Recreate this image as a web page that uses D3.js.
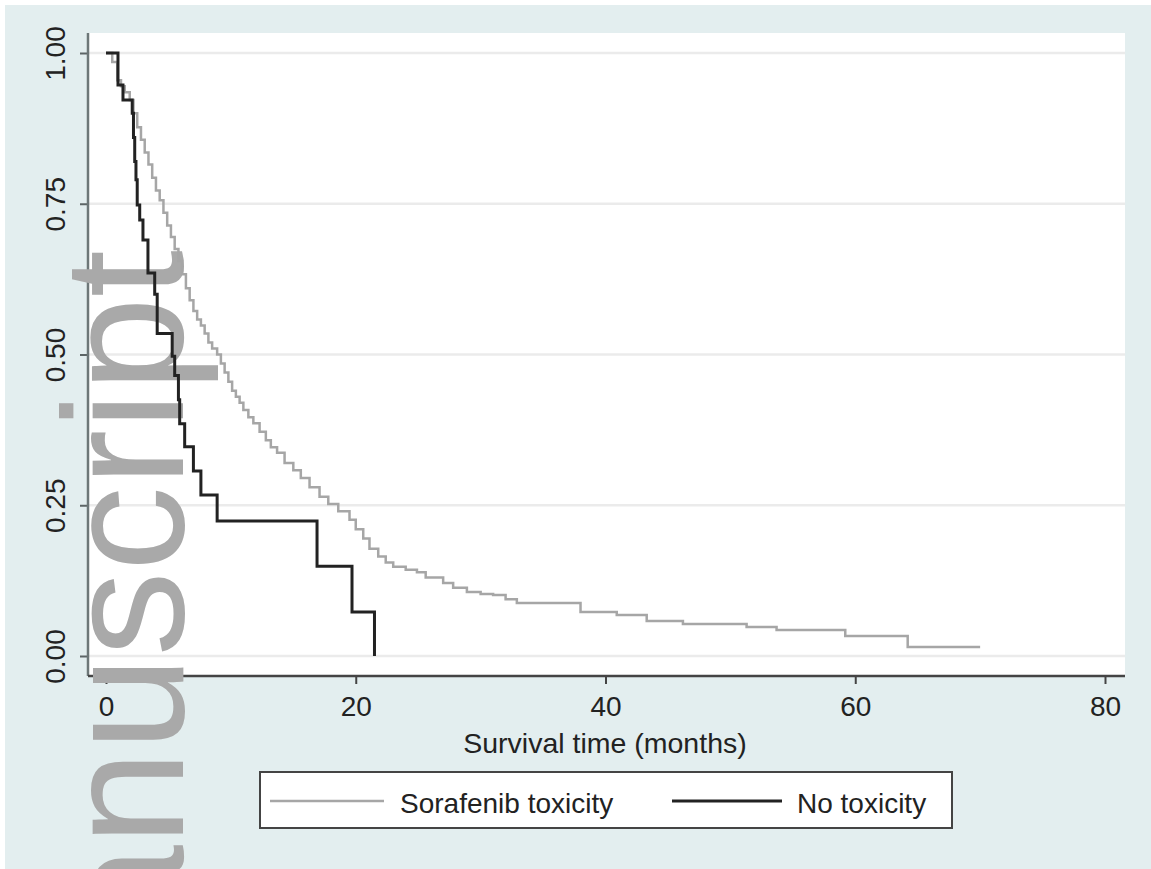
<!DOCTYPE html>
<html>
<head>
<meta charset="utf-8">
<script src="https://cdnjs.cloudflare.com/ajax/libs/d3/7.8.5/d3.min.js"></script>
<style>
    html, body { margin: 0; padding: 0; background: #ffffff; }
    svg { display: block; font-family: "Liberation Sans", Arial, sans-serif; }
</style>
</head>
<body>
<div id="chart"></div>
<script>
// Kaplan-Meier steps: time (months) and survival after that time.
var toxTime = [0, 0.5, 0.9, 1.2, 1.5, 1.9, 2.2, 2.5, 2.8, 3.1, 3.4, 3.7, 4.0, 4.3, 4.6, 4.9, 5.2, 5.5, 5.8, 6.1,
    6.4, 6.7, 7.0, 7.3, 7.6, 7.9, 8.2, 8.5, 8.9, 9.2, 9.5, 9.8, 10.1, 10.4, 10.7, 11.0, 11.4, 11.8, 12.3, 12.8,
    13.2, 13.7, 14.3, 15.0, 15.6, 16.3, 17.1, 17.8, 18.6, 19.5, 20.0, 20.6, 21.1, 21.8, 22.4, 23.0, 24.0, 24.9,
    25.6, 27.0, 27.8, 28.9, 30.0, 31.0, 32.0, 32.9, 38.0, 40.9, 43.3, 46.2, 51.3, 53.7, 59.2, 64.2, 70.0];
var toxSurv = [1.0, 0.985, 0.955, 0.945, 0.935, 0.922, 0.9, 0.877, 0.856, 0.835, 0.815, 0.793, 0.772, 0.756,
    0.735, 0.714, 0.695, 0.675, 0.655, 0.633, 0.61, 0.59, 0.572, 0.558, 0.548, 0.535, 0.52, 0.51, 0.5, 0.485,
    0.47, 0.455, 0.44, 0.43, 0.42, 0.408, 0.396, 0.386, 0.372, 0.358, 0.346, 0.337, 0.32, 0.308, 0.295, 0.28,
    0.264, 0.252, 0.24, 0.226, 0.21, 0.195, 0.178, 0.165, 0.155, 0.148, 0.143, 0.139, 0.13, 0.121, 0.113,
    0.106, 0.103, 0.101, 0.094, 0.088, 0.073, 0.068, 0.058, 0.053, 0.048, 0.043, 0.033, 0.015, 0.015];

var noToxTime = [0, 0.96, 1.36, 2.1, 2.2, 2.3, 2.4, 2.5, 2.7, 2.96, 3.36, 3.9, 4.1, 5.3, 5.5, 5.8, 5.9, 6.3, 7.0,
    7.6, 8.9, 16.9, 19.7, 21.5];
var noToxSurv = [1.0, 0.947, 0.922, 0.9, 0.86, 0.82, 0.79, 0.748, 0.723, 0.69, 0.635, 0.6, 0.535, 0.497, 0.465,
    0.425, 0.385, 0.347, 0.307, 0.267, 0.224, 0.149, 0.073, 0.0];

var xTicks = [0, 20, 40, 60, 80];
var yTicks = [0, 0.25, 0.5, 0.75, 1.0];
var xTitle = "Survival time (months)";
var seriesNames = ["Sorafenib toxicity", "No toxicity"];
var watermarkText = "anuscript";

var params = {
    width: 1151,
    height: 869,
    // plot region box
    regionLeft: 88,
    regionRight: 1125,
    regionTop: 33,
    regionBottom: 676,
    fontSize: 28
};

function buildSeries(times, survs) {
    return times.map(function (d, i) { return { t: d, s: survs[i] }; });
}

function render() {
    var p = params;
    var svg = d3.select("#chart").append("svg")
        .attr("width", p.width)
        .attr("height", p.height);

    // graph region (light blue) and plot region (white)
    svg.append("rect").attr("x", 5).attr("y", 5)
        .attr("width", p.width - 5).attr("height", p.height - 5)
        .attr("fill", "#e3eeef");
    svg.append("rect").attr("x", p.regionLeft).attr("y", p.regionTop)
        .attr("width", p.regionRight - p.regionLeft).attr("height", p.regionBottom - p.regionTop)
        .attr("fill", "#ffffff");

    var xScale = d3.scaleLinear().domain([0, 80]).range([106, 1105]);
    var yScale = d3.scaleLinear().domain([0, 1]).range([656, 53]);

    // grid lines
    svg.append("g").attr("class", "grid")
        .selectAll("line").data(yTicks).enter().append("line")
        .attr("x1", p.regionLeft).attr("x2", p.regionRight)
        .attr("y1", function (d) { return yScale(d); })
        .attr("y2", function (d) { return yScale(d); })
        .attr("stroke", "#ebebeb").attr("stroke-width", 2.5);

    // y axis, labels turned on their side like Stata does
    var yAxis = d3.axisLeft(yScale).tickValues(yTicks).tickSize(8).tickFormat(d3.format(".2f"));
    var gy = svg.append("g").attr("transform", "translate(" + p.regionLeft + ",0)").call(yAxis);
    gy.select(".domain").remove();
    gy.selectAll(".tick line").attr("stroke", "#5c6566").attr("stroke-width", 2);
    gy.selectAll(".tick text")
        .attr("x", 0).attr("y", -23).attr("dy", 0)
        .attr("transform", "rotate(-90)")
        .attr("text-anchor", "middle")
        .attr("font-size", p.fontSize).attr("fill", "#222");
    gy.append("line").attr("x1", 0).attr("x2", 0)
        .attr("y1", p.regionTop).attr("y2", p.regionBottom)
        .attr("stroke", "#6d7778").attr("stroke-width", 2.5);

    // x axis
    var xAxis = d3.axisBottom(xScale).tickValues(xTicks).tickSize(8).tickPadding(12);
    var gx = svg.append("g").attr("transform", "translate(0," + p.regionBottom + ")").call(xAxis);
    gx.select(".domain").remove();
    gx.selectAll(".tick line").attr("stroke", "#444").attr("stroke-width", 2);
    gx.selectAll(".tick text").attr("font-size", p.fontSize).attr("fill", "#222");
    gx.append("line").attr("x1", p.regionLeft).attr("x2", p.regionRight)
        .attr("y1", 0).attr("y2", 0)
        .attr("stroke", "#444").attr("stroke-width", 2.5);

    svg.append("text")
        .attr("x", 605).attr("y", 753)
        .attr("text-anchor", "middle")
        .attr("font-size", 28.5).attr("fill", "#222")
        .text(xTitle);

    // watermark sits under the curves; it runs off the bottom edge as in the original
    svg.append("text")
        .attr("transform", "translate(183,250) rotate(-90)")
        .attr("text-anchor", "end")
        .attr("font-size", 170)
        .attr("fill", "#a9a9a9")
        .text(watermarkText);

    var line = d3.line()
        .x(function (d) { return xScale(d.t); })
        .y(function (d) { return yScale(d.s); })
        .curve(d3.curveStepAfter);

    svg.append("path").datum(buildSeries(toxTime, toxSurv))
        .attr("d", line).attr("fill", "none")
        .attr("stroke", "#a6a6a6").attr("stroke-width", 2.5);
    svg.append("path").datum(buildSeries(noToxTime, noToxSurv))
        .attr("d", line).attr("fill", "none")
        .attr("stroke", "#222").attr("stroke-width", 3);

    // legend
    var lg = svg.append("g");
    lg.append("rect").attr("x", 260).attr("y", 772).attr("width", 692).attr("height", 56)
        .attr("fill", "#ffffff").attr("stroke", "#444").attr("stroke-width", 2);
    var items = [
        { name: seriesNames[0], color: "#a6a6a6", width: 2.5, x1: 270, x2: 384, tx: 400 },
        { name: seriesNames[1], color: "#222", width: 3, x1: 672, x2: 782, tx: 797 }
    ];
    items.forEach(function (it) {
        lg.append("line").attr("x1", it.x1).attr("x2", it.x2).attr("y1", 801).attr("y2", 801)
            .attr("stroke", it.color).attr("stroke-width", it.width);
        lg.append("text").attr("x", it.tx).attr("y", 813)
            .attr("font-size", p.fontSize).attr("fill", "#222").text(it.name);
    });
}

render();
</script>
</body>
</html>
